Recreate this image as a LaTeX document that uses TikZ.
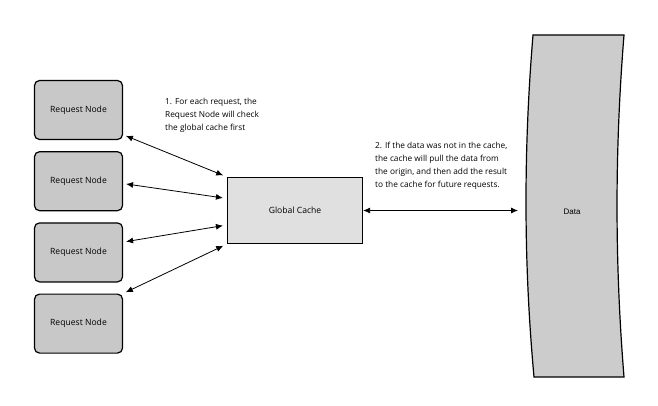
\documentclass[tikz,border=0pt]{standalone}
\usepackage{fontspec}
\newfontfamily\labelfont{Open Sans}
\newfontfamily\datafont{Liberation Sans}
\usepackage{tikz}
\usetikzlibrary{positioning, arrows.meta}

\definecolor{reqgray}{HTML}{C8C8C8}
\definecolor{cachegray}{HTML}{E0E0E0}
\definecolor{datagray}{HTML}{CCCCCC}

\tikzset{
  reqnode/.style={draw, line width=1.2pt, rounded corners=5pt, fill=reqgray,
    minimum width=88pt, minimum height=59pt, font=\labelfont\fontsize{8.6}{10}\selectfont},
  cachenode/.style={draw, line width=1.2pt, fill=cachegray,
    minimum width=135pt, minimum height=66pt, font=\labelfont\fontsize{8.6}{10}\selectfont},
  note/.style={align=left, inner sep=0pt, font=\labelfont\fontsize{8.3}{13}\selectfont},
  link/.style={{Latex[length=7pt,width=6pt]}-{Latex[length=7pt,width=6pt]}, line width=0.8pt}
}

\begin{document}
\begin{tikzpicture} [x=1pt, y=-1pt]
        \useasboundingbox (0,0) rectangle (658,406);
        % request nodes
        \node[reqnode] (req1) at (78.5,110) {Request Node};
        \node[reqnode, below=11pt of req1] (req2) {Request Node};
        \node[reqnode, below=11pt of req2] (req3) {Request Node};
        \node[reqnode, below=11pt of req3] (req4) {Request Node};
        % the cache
        \node[cachenode] (cache) at (295,210.5) {Global Cache};
        % the data store
        \draw[line width=1.2pt, fill=datagray] (533,35) -- (624,35)
            .. controls (614.7,150) and (614.7,262) .. (624,377)
            -- (534,377)
            .. controls (523.5,262) and (523.5,150) .. (533,35) -- cycle;
        \node[font=\datafont\fontsize{8}{9}\selectfont] (data) at (572,212) {Data};
        \coordinate (dataedge) at (518,210.5);
        % notes
        \node[note, anchor=north west] (note1) at (165,98)
            {1. For each request, the\\Request Node will check\\the global cache first};
        \node[note, anchor=north west] (note2) at (375,142)
            {2. If the data was not in the cache,\\the cache will pull the data from\\the origin, and then add the result\\to the cache for future requests.};
        % connectors
        \draw[link, shorten <=3pt, shorten >=4pt] (req1.-29) -- (cache.north west);
        \draw[link, shorten <=3pt, shorten >=4pt] (req2.-3) -- (cache.170);
        \draw[link, shorten <=3pt, shorten >=4pt] (req3.13) -- (cache.-168);
        \draw[link, shorten <=3pt, shorten >=4pt] (req4.north east) -- (cache.south west);
        \draw[link] (cache.east) -- (dataedge);
    \end{tikzpicture}
\end{document}
